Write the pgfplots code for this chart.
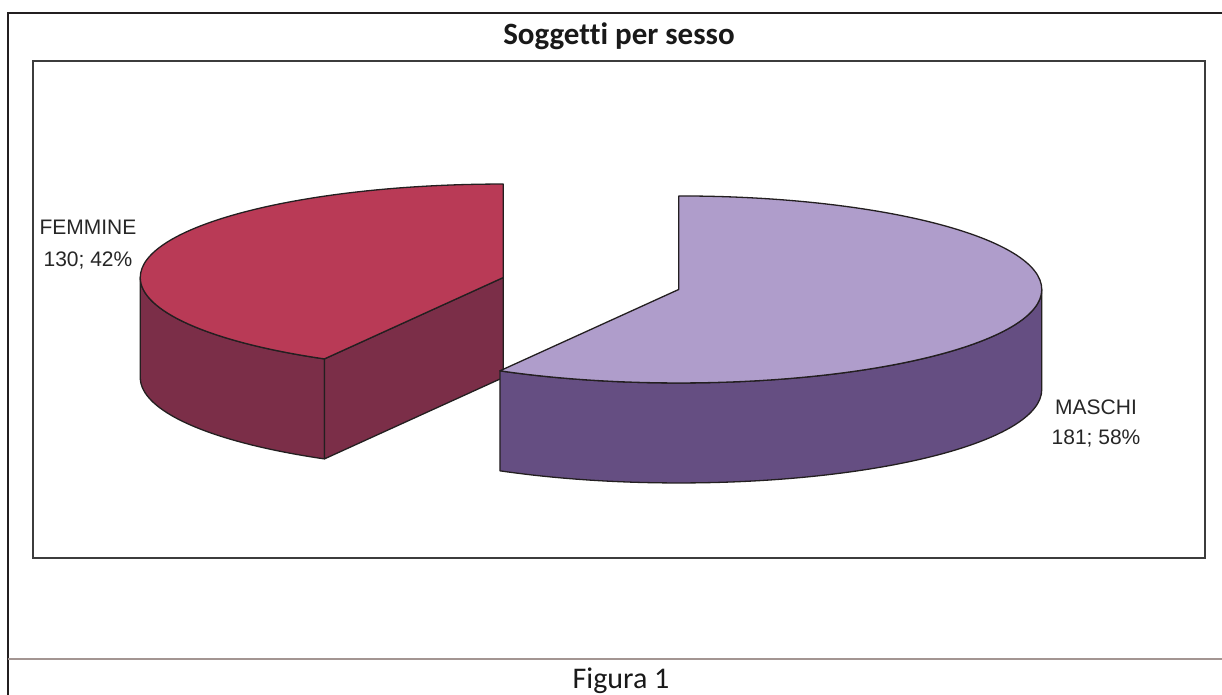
\documentclass[border=0pt]{standalone}
\usepackage{pgfplots}
\usepackage{pgfplotstable}
\pgfplotsset{compat=1.18}
\usepackage{fontspec}
\setmainfont{Carlito}[Ligatures=NoCommon]
\newfontfamily\arial{Liberation Sans}
\definecolor{fTop}{HTML}{B93A56}
\definecolor{fSide}{HTML}{7B2E48}
\definecolor{mTop}{HTML}{AF9DCB}
\definecolor{mSide}{HTML}{654E82}
\definecolor{edge}{HTML}{231F20}
\definecolor{frameC}{HTML}{3C3C3C}
\definecolor{sepC}{HTML}{A39592}

\pgfplotstableread{
label value
FEMMINE 130
MASCHI 181
}\piedata

\begin{document}
\begin{tikzpicture}
\pgfplotstablegetelem{0}{value}\of\piedata \edef\vF{\pgfplotsretval}
\pgfplotstablegetelem{1}{value}\of\piedata \edef\vM{\pgfplotsretval}
\pgfmathsetmacro\tot{\vF+\vM}
\pgfmathsetmacro\fracM{\vM/\tot}
\pgfmathsetmacro\fracF{\vF/\tot}
\pgfmathsetmacro\spanM{360*\fracM}
\pgfmathsetmacro\aEnd{90-\spanM}
\pgfmathsetmacro\aF{360+\aEnd}
\pgfmathtruncatemacro\pF{round(100*\fracF)}
\pgfmathtruncatemacro\pM{round(100*\fracM)}
\def\rx{363}\def\ry{93.5}\def\dd{100}
\def\pcx{591}\def\pcy{411.5}\def\ex{0.25}
\pgfmathsetmacro\bisF{(90+\aF)/2}
\pgfmathsetmacro\bisM{(90+\aEnd)/2}
\pgfmathsetmacro\cxF{\pcx+\ex*\rx*cos(\bisF)}
\pgfmathsetmacro\cyF{\pcy+\ex*\ry*sin(\bisF)}
\pgfmathsetmacro\cxM{\pcx+\ex*\rx*cos(\bisM)}
\pgfmathsetmacro\cyM{\pcy+\ex*\ry*sin(\bisM)}
\begin{axis}[width=1222pt,height=695pt,scale only axis,anchor=origin,at={(0pt,0pt)},
  xmin=0,xmax=1222,ymin=0,ymax=695,hide axis,clip=false]
\path (axis cs:0,0) rectangle (axis cs:1222,695);
% frames
\draw[edge,line width=2.2pt] (axis cs:8,0) -- (axis cs:8,682) -- (axis cs:1222,682);
\draw[sepC,line width=2pt] (axis cs:8,36) -- (axis cs:1222,36);
\draw[frameC,line width=1.6pt] (axis cs:33,137) rectangle (axis cs:1205,634);
% FEMMINE slice
\filldraw[fill=fSide,draw=edge,line width=1.3pt,line join=round]
  (axis cs:{\cxF-\rx},\cyF) arc[start angle=180,end angle=\aF,x radius=\rx pt,y radius=\ry pt]
  -- ++(0,-\dd pt) arc[start angle=\aF,end angle=180,x radius=\rx pt,y radius=\ry pt] -- cycle;
\filldraw[fill=fSide,draw=edge,line width=1.3pt,line join=round]
  (axis cs:\cxF,\cyF) -- (axis cs:{\cxF+\rx*cos(\aF)},{\cyF+\ry*sin(\aF)})
  -- (axis cs:{\cxF+\rx*cos(\aF)},{\cyF+\ry*sin(\aF)-\dd}) -- (axis cs:\cxF,{\cyF-\dd}) -- cycle;
\filldraw[fill=fTop,draw=edge,line width=1.3pt,line join=round]
  (axis cs:\cxF,\cyF) -- (axis cs:\cxF,{\cyF+\ry})
  arc[start angle=90,end angle=\aF,x radius=\rx pt,y radius=\ry pt] -- cycle;
% MASCHI slice
\filldraw[fill=mSide,draw=edge,line width=1.3pt,line join=round]
  (axis cs:{\cxM+\rx*cos(\aEnd)},{\cyM+\ry*sin(\aEnd)})
  arc[start angle=\aEnd,end angle=0,x radius=\rx pt,y radius=\ry pt]
  -- ++(0,-\dd pt) arc[start angle=0,end angle=\aEnd,x radius=\rx pt,y radius=\ry pt] -- cycle;
\filldraw[fill=mTop,draw=edge,line width=1.3pt,line join=round]
  (axis cs:\cxM,\cyM) -- (axis cs:\cxM,{\cyM+\ry})
  arc[start angle=90,end angle=\aEnd,x radius=\rx pt,y radius=\ry pt] -- cycle;
% labels
\node[anchor=base,font=\arial\fontsize{21}{25}\selectfont,text=black!85] at (axis cs:88,460) {FEMMINE};
\node[anchor=base,font=\arial\fontsize{21}{25}\selectfont,text=black!85] at (axis cs:88,428) {\vF; \pF\%};
\node[anchor=base,font=\arial\fontsize{21}{25}\selectfont,text=black!85] at (axis cs:1096,280) {MASCHI};
\node[anchor=base,font=\arial\fontsize{21}{25}\selectfont,text=black!85] at (axis cs:1096,250) {\vM; \pM\%};
\node[anchor=base,font=\bfseries\fontsize{31}{36}\selectfont,text=black!90] at (axis cs:619,650) {Soggetti per sesso};
\node[anchor=base,font=\fontsize{30}{36}\selectfont,text=black!90] at (axis cs:621,6) {Figura 1};
\end{axis}
\pgfresetboundingbox
\path[use as bounding box] (0pt,0pt) rectangle (1222pt,695pt);
\end{tikzpicture}
\end{document}
